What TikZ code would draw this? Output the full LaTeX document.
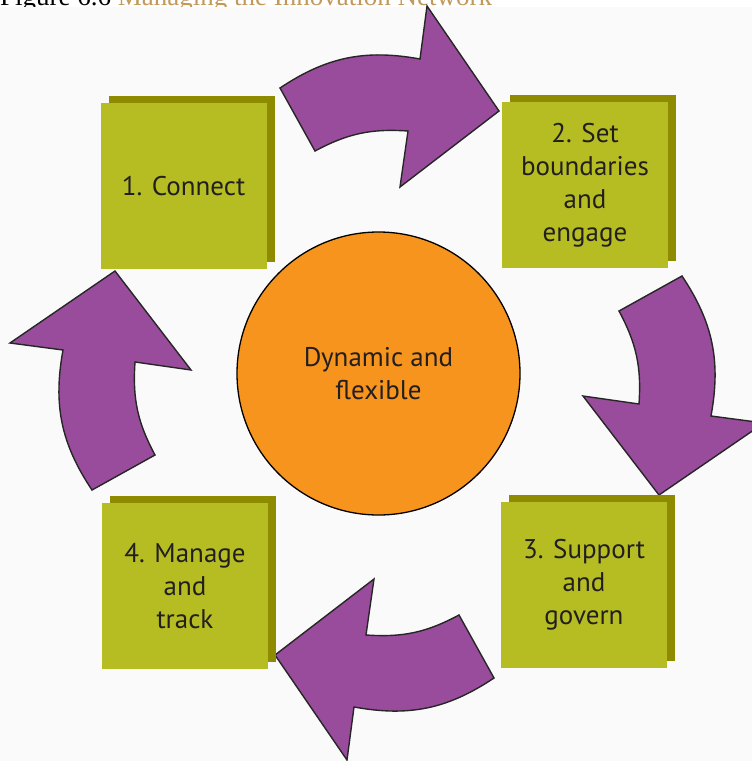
\documentclass[tikz,border=0pt]{standalone}
\usepackage{fontspec}
\setmainfont{PT Sans}
\newfontfamily\titlefont{Liberation Serif}
\usetikzlibrary{shadows}
\definecolor{boxgreen}{HTML}{B5BD23}
\definecolor{boxshadow}{HTML}{8E8B00}
\definecolor{arrowpurple}{HTML}{9A4C9C}
\definecolor{discorange}{HTML}{F7941E}
\definecolor{txt}{HTML}{231F20}
\definecolor{titletan}{HTML}{C19A5B}
\definecolor{bgcol}{HTML}{FAFAFA}
\tikzset{
  stepbox/.style={rectangle, fill=boxgreen, minimum width=166pt, minimum height=166pt,
    inner sep=0pt, align=center, text=txt, font=\fontsize{27}{33}\selectfont,
    drop shadow={shadow xshift=8pt, shadow yshift=7pt, fill=boxshadow, opacity=1}},
  hub/.style={circle, fill=discorange, draw=black, line width=1.3pt, minimum size=283pt,
    inner sep=0pt, align=center, text=txt, font=\fontsize{27}{33}\selectfont},
  blockarrow/.style={fill=arrowpurple, draw=black!85, line width=1.4pt, line join=miter}
}
\newcommand{\cyclearrow}{%
  (280,88) to[bend left=22] (420,59) -- (427,6) -- (499,111) -- (400,187) -- (408,131)
  to[bend right=16] (315,151) -- cycle}
\begin{document}
\begin{tikzpicture}[x=1pt,y=-1pt]
  \clip (0,0) rectangle (752,761);
  \fill[white] (0,0) rectangle (752,761);
  \node[anchor=base west, inner sep=0pt, font=\titlefont\fontsize{27}{30}\selectfont] (title) at (0,5)
    {Figure 6.6 \textcolor{titletan}{Managing the Innovation Network}};
  \fill[bgcol] (0,7) rectangle (752,761);
  % arrows
  \draw[blockarrow] \cyclearrow;
  \begin{scope}[rotate around={-90:(387,383)}]
    \draw[blockarrow] \cyclearrow;
  \end{scope}
  \begin{scope}[rotate around={180:(387,383)}]
    \draw[blockarrow] \cyclearrow;
  \end{scope}
  \begin{scope}[rotate around={90:(387,383)}]
    \draw[blockarrow] \cyclearrow;
  \end{scope}
  % boxes
  \node[stepbox] (s1) at (183.5,186) {1. Connect};
  \node[stepbox] (s2) at (585,185) {2. Set\\boundaries\\and\\engage};
  \node[stepbox] (s3) at (584,585) {3. Support\\and\\govern};
  \node[stepbox] (s4) at (185,586) {4. Manage\\and\\track};
  % centre
  \node[hub] (core) at (378.5,373.5) {Dynamic and\\flexible};
\end{tikzpicture}
\end{document}
